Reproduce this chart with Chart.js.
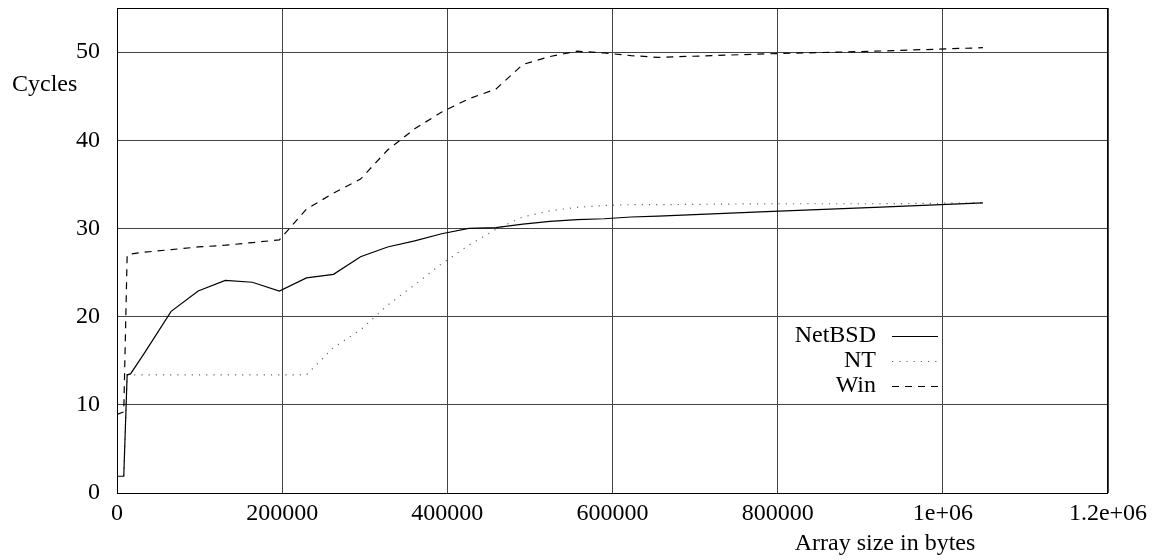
<!DOCTYPE html>
<html>
<head>
<meta charset="utf-8">
<script src="https://cdn.jsdelivr.net/npm/chart.js@4.4.1/dist/chart.umd.min.js"></script>
<style>
  html, body { margin: 0; padding: 0; background: #fff; }
  canvas { display: block; }
</style>
</head>
<body>
<canvas id="cacheChart" width="1156" height="560"></canvas>
<script>
// array sizes in bytes (shared by all three series)
var sizes = [0, 8192, 12288, 16384, 32768, 65536, 98304, 131072, 163840, 196608,
    229376, 262144, 294912, 327680, 360448, 393216, 425984, 458752, 491520, 524288,
    557056, 589824, 622592, 655360, 786432, 917504, 1048576];

var netbsd = [1.9, 1.9, 13.4, 13.5, 15.8, 20.6, 22.9, 24.1, 23.9, 22.9,
    24.4, 24.8, 26.8, 27.9, 28.6, 29.4, 30.0, 30.1, 30.5, 30.8,
    31.0, 31.1, 31.3, 31.4, 31.9, 32.4, 32.9];

var nt = [1.9, 1.9, 13.4, 13.4, 13.4, 13.4, 13.4, 13.4, 13.4, 13.4,
    13.4, 16.5, 18.5, 21.3, 23.6, 26.0, 28.1, 29.9, 31.3, 32.0,
    32.4, 32.6, 32.7, 32.7, 32.8, 32.8, 32.9];

var win = [8.9, 9.2, 27.0, 27.1, 27.3, 27.6, 27.9, 28.1, 28.4, 28.7,
    32.2, 34.0, 35.6, 38.9, 41.3, 43.2, 44.7, 45.8, 48.6, 49.5,
    50.1, 49.9, 49.6, 49.4, 49.8, 50.1, 50.5];

var seriesNames = ["NetBSD", "NT", "Win"];
var xTickLabels = ["0", "200000", "400000", "600000", "800000", "1e+06", "1.2e+06"];
var yTickLabels = ["0", "10", "20", "30", "40", "50"];

var FONT = "'Liberation Serif', 'Times New Roman', serif";

function toPoints(values) {
    return sizes.map(function (s, i) { return { x: s, y: values[i] }; });
}

// keep the plot box where gnuplot put it
function noPad(scale) {
    scale.paddingTop = 0;
    scale.paddingBottom = 0;
    scale.paddingLeft = 0;
    scale.paddingRight = 0;
}

// gnuplot-like frame, key and axis titles
var gnuplotDecor = {
    id: 'gnuplotDecor',
    beforeDatasetsDraw: function (chart) {
        var ctx = chart.ctx, a = chart.chartArea;
        ctx.save();
        ctx.strokeStyle = '#000';
        ctx.lineWidth = 1;
        ctx.strokeRect(a.left + 0.5, a.top + 0.5, a.right - a.left - 1, a.bottom - a.top);
        ctx.restore();
    },
    afterDraw: function (chart) {
        var ctx = chart.ctx;
        ctx.save();
        ctx.fillStyle = '#000';
        ctx.font = "24px " + FONT;
        ctx.textBaseline = 'middle';

        ctx.textAlign = 'left';
        ctx.fillText("Cycles", 12, 85);
        ctx.textAlign = 'center';
        ctx.fillText("Array size in bytes", 885, 544);

        // key
        chart.data.datasets.forEach(function (ds, i) {
            var y = 336 + i * 25;
            ctx.textAlign = 'right';
            ctx.fillText(ds.label, 876, y);
            ctx.beginPath();
            ctx.strokeStyle = ds.borderColor;
            ctx.lineWidth = ds.borderWidth;
            ctx.setLineDash(ds.borderDash || []);
            ctx.moveTo(892, y + 0.5);
            ctx.lineTo(938, y + 0.5);
            ctx.stroke();
        });
        ctx.restore();
    }
};

var ctx = document.getElementById('cacheChart').getContext('2d');
new Chart(ctx, {
    type: 'line',
    data: {
        datasets: [{
            label: seriesNames[0],
            data: toPoints(netbsd),
            borderColor: '#000',
            borderWidth: 1.2,
            borderDash: []
        }, {
            label: seriesNames[1],
            data: toPoints(nt),
            borderColor: '#666',
            borderWidth: 1.2,
            borderDash: [1.2, 6]
        }, {
            label: seriesNames[2],
            data: toPoints(win),
            borderColor: '#000',
            borderWidth: 1.2,
            borderDash: [7, 6]
        }]
    },
    options: {
        responsive: false,
        animation: false,
        layout: { padding: { left: 0, right: 48, top: 8, bottom: 0 } },
        elements: {
            point: { radius: 0 },
            line: { tension: 0, fill: false }
        },
        plugins: {
            legend: { display: false },
            tooltip: { enabled: false }
        },
        scales: {
            x: {
                type: 'linear',
                min: 0,
                max: 1200000,
                afterFit: function (scale) { scale.height = 67; noPad(scale); },
                ticks: {
                    stepSize: 200000,
                    color: '#000',
                    padding: 6,
                    maxRotation: 0,
                    font: { family: FONT, size: 24 },
                    callback: function (v, i) { return xTickLabels[i]; }
                },
                grid: { color: '#444', lineWidth: 1, drawTicks: false },
                border: { display: false }
            },
            y: {
                min: 0,
                max: 55,
                afterFit: function (scale) { scale.width = 117; noPad(scale); },
                ticks: {
                    stepSize: 10,
                    includeBounds: false,
                    color: '#000',
                    padding: 17,
                    font: { family: FONT, size: 24 },
                    callback: function (v, i) { return yTickLabels[i]; }
                },
                grid: { color: '#444', lineWidth: 1, drawTicks: false },
                border: { display: false }
            }
        }
    },
    plugins: [gnuplotDecor]
});
</script>
</body>
</html>
